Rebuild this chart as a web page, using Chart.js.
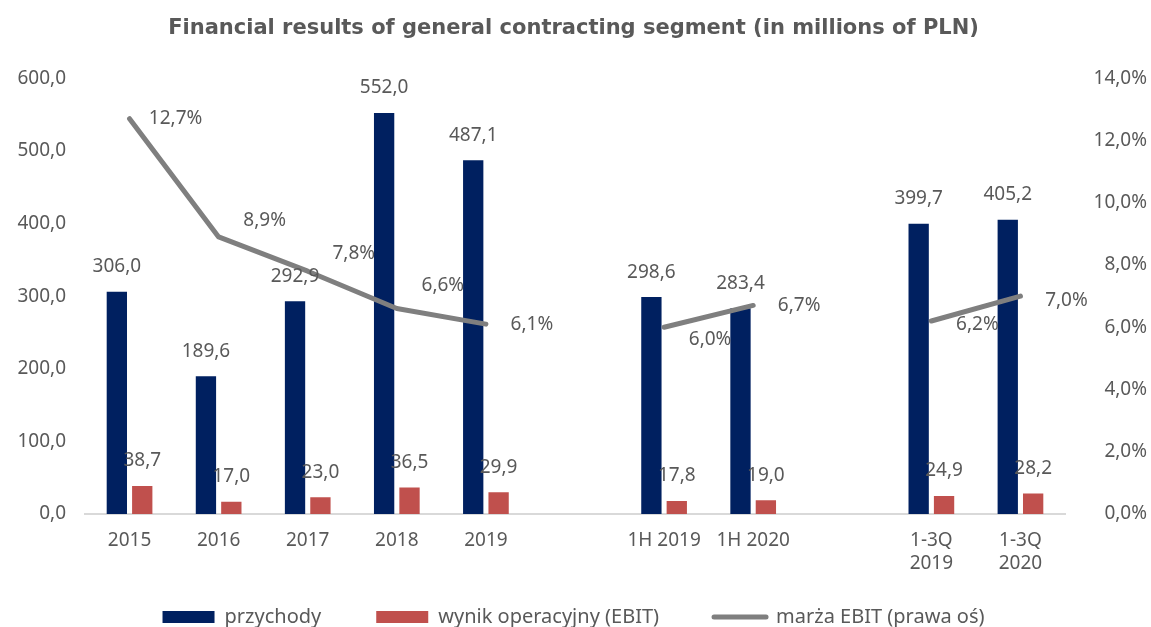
<!DOCTYPE html>
<html>
<head>
<meta charset="utf-8">
<script src="https://cdn.jsdelivr.net/npm/chart.js@4.4.1/dist/chart.umd.min.js"></script>
<style>
    html, body { margin: 0; padding: 0; background: #ffffff; }
    #wrap { width: 1151px; height: 627px; }
</style>
</head>
<body>
<div id="wrap"><canvas id="segmentChart" width="1151" height="627"></canvas></div>
<script>
// periods, with two blank slots separating the yearly, half-year and 3-quarter groups
const periods = ["2015", "2016", "2017", "2018", "2019", "", "1H 2019", "1H 2020", "", ["1-3Q", "2019"], ["1-3Q", "2020"]];
const revenue = [306.0, 189.6, 292.9, 552.0, 487.1, null, 298.6, 283.4, null, 399.7, 405.2];
const ebit = [38.7, 17.0, 23.0, 36.5, 29.9, null, 17.8, 19.0, null, 24.9, 28.2];
const ebitMargin = [12.7, 8.9, 7.8, 6.6, 6.1, null, 6.0, 6.7, null, 6.2, 7.0];
const leftTicks = [0, 100, 200, 300, 400, 500, 600];
const rightTicks = [0, 2, 4, 6, 8, 10, 12, 14];

const textColor = "#595959";
const fontFamily = "'Noto Sans', sans-serif";

const fmt = (v) => v.toFixed(1).replace(".", ",");

// value labels: bars get theirs above the bar, the margin line to the right of each point
const valueLabels = {
    id: "valueLabels",
    afterDatasetsDraw(chart, args, opts) {
        const ctx = chart.ctx;
        ctx.save();
        ctx.font = "19px " + fontFamily;
        ctx.fillStyle = textColor;
        ctx.textBaseline = "middle";
        ctx.textAlign = "center";
        chart.data.datasets.forEach((ds, di) => {
            const meta = chart.getDatasetMeta(di);
            meta.data.forEach((el, i) => {
                const v = ds.data[i];
                if (v === null || v === undefined) return;
                if (ds.type === "line") {
                    const dy = opts.lineNudge[i] || 0;
                    ctx.fillText(fmt(v) + "%", el.x + 46, el.y + dy);
                } else {
                    ctx.fillText(fmt(v), el.x, el.y - 25);
                }
            });
        });
        ctx.restore();
    },
};

new Chart(document.getElementById("segmentChart"), {
    type: "bar",
    data: {
        labels: periods,
        datasets: [
            {
                label: "przychody",
                data: revenue,
                backgroundColor: "#002060",
                borderWidth: 0,
                yAxisID: "y",
                categoryPercentage: 0.57,
                barPercentage: 0.8,
            },
            {
                label: "wynik operacyjny (EBIT)",
                data: ebit,
                backgroundColor: "#C0504D",
                borderWidth: 0,
                yAxisID: "y",
                categoryPercentage: 0.57,
                barPercentage: 0.8,
            },
            {
                type: "line",
                label: "marża EBIT (prawa oś)",
                data: ebitMargin,
                borderColor: "#7F7F7F",
                backgroundColor: "#7F7F7F",
                borderWidth: 5,
                borderCapStyle: "round",
                borderJoinStyle: "round",
                pointRadius: 0,
                spanGaps: false,
                tension: 0,
                yAxisID: "y1",
                order: -1, // keep the line above the bars
            },
        ],
    },
    options: {
        responsive: false,
        animation: false,
        layout: { padding: { left: 0, right: 4, top: 0, bottom: 0 } },
        plugins: {
            title: {
                display: true,
                text: "Financial results of general contracting segment (in millions of PLN)",
                color: textColor,
                font: { family: "'DejaVu Sans', sans-serif", size: 21, weight: "bold" },
                padding: { top: 16, bottom: 37 },
            },
            legend: {
                position: "bottom",
                maxHeight: 35,
                labels: {
                    color: textColor,
                    font: { family: fontFamily, size: 20 },
                    usePointStyle: true,
                    pointStyleWidth: 52,
                    boxHeight: 12,
                    padding: 15,
                    sort: (a, b) => a.datasetIndex - b.datasetIndex,
                    generateLabels(chart) {
                        const items = Chart.defaults.plugins.legend.labels.generateLabels(chart);
                        items.forEach((it) => {
                            const ds = chart.data.datasets[it.datasetIndex];
                            if (ds.type === "line") {
                                it.pointStyle = "line";
                                it.lineWidth = 5;
                                it.lineCap = "round";
                            } else {
                                // wider gap after the bar entries
                                it.pointStyle = "rect";
                                it.text += "\u2003\u2003";
                            }
                        });
                        return items;
                    },
                },
            },
            tooltip: { enabled: false },
            valueLabels: {
                lineNudge: [0, -16, -18, -23, 0, 0, 12, 0, 0, 4, 4],
            },
        },
        scales: {
            x: {
                grid: { display: false, drawTicks: false },
                border: { display: true, color: "#D9D9D9", width: 2 },
                ticks: {
                    color: textColor,
                    font: { family: fontFamily, size: 19 },
                    padding: 15,
                    maxRotation: 0,
                    autoSkip: false,
                },
                afterFit: (scale) => { scale.height = 78; },
            },
            y: {
                position: "left",
                min: 0,
                max: 600,
                afterBuildTicks: (scale) => { scale.ticks = leftTicks.map((v) => ({ value: v })); },
                grid: { display: false, drawTicks: false },
                border: { display: false },
                ticks: {
                    color: textColor,
                    font: { family: fontFamily, size: 19 },
                    padding: 19,
                    callback: (v) => fmt(v),
                },
                afterFit: (scale) => { scale.width = 85; },
            },
            y1: {
                position: "right",
                min: 0,
                max: 14,
                afterBuildTicks: (scale) => { scale.ticks = rightTicks.map((v) => ({ value: v })); },
                grid: { display: false, drawTicks: false },
                border: { display: false },
                ticks: {
                    color: textColor,
                    font: { family: fontFamily, size: 19 },
                    crossAlign: "far",
                    callback: (v) => fmt(v) + "%",
                },
                afterFit: (scale) => { scale.width = 82; },
            },
        },
    },
    plugins: [valueLabels],
});
</script>
</body>
</html>
